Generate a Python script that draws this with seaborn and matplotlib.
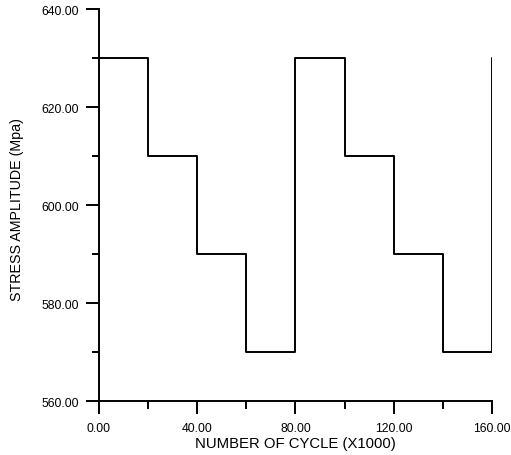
import matplotlib
matplotlib.use("Agg")
import matplotlib.pyplot as plt
import seaborn as sns
import pandas as pd
from matplotlib.ticker import MultipleLocator, FormatStrFormatter

cycles = [0, 20, 40, 60, 80, 100, 120, 140, 160]
stress = [630, 610, 590, 570, 630, 610, 590, 570, 630]
x_major = [0, 40, 80, 120, 160]
y_major = [560, 580, 600, 620, 640]

sns.set_theme(style="ticks")
plt.rcParams['font.family'] = ['Liberation Sans', 'DejaVu Sans']

df = pd.DataFrame({"cycle": cycles, "stress": stress})

fig = plt.figure(figsize=(5.11, 4.56), dpi=100)
ax = fig.add_axes([0.1937, 0.1184, 0.9628 - 0.1937, 0.978 - 0.1184])
sns.lineplot(data=df, x="cycle", y="stress", drawstyle="steps-post",
             color="black", linewidth=1.4, estimator=None, sort=False, ax=ax)

ax.set_xlim(0, 160)
ax.set_ylim(560, 640)
ax.set_xticks(x_major)
ax.set_yticks(y_major)
ax.xaxis.set_minor_locator(MultipleLocator(20))
ax.yaxis.set_minor_locator(MultipleLocator(10))
ax.xaxis.set_major_formatter(FormatStrFormatter('%.2f'))
ax.yaxis.set_major_formatter(FormatStrFormatter('%.2f'))
for s in ['top', 'right']:
    ax.spines[s].set_visible(False)
for s in ['left', 'bottom']:
    ax.spines[s].set_linewidth(1.4)
    ax.spines[s].set_color('black')
ax.tick_params(axis='both', which='major', length=9.4, width=1.4, color='black',
               labelsize=8.8, labelcolor='black', direction='out')
ax.tick_params(axis='both', which='minor', length=5.4, width=1.4, color='black',
               direction='out')
ax.tick_params(axis='x', which='major', pad=6)
ax.tick_params(axis='y', which='major', pad=5)
ax.set_xlabel("NUMBER OF CYCLE (X1000)", fontsize=10.7, labelpad=1.5, color='black')
ax.set_ylabel("STRESS AMPLITUDE (Mpa)", fontsize=10.3, color='black')
ax.yaxis.set_label_coords(-0.19, 0.49)
ax.set_facecolor('white')
ax.patch.set_alpha(0)

fig.savefig("out.png", dpi=100, facecolor='white')
